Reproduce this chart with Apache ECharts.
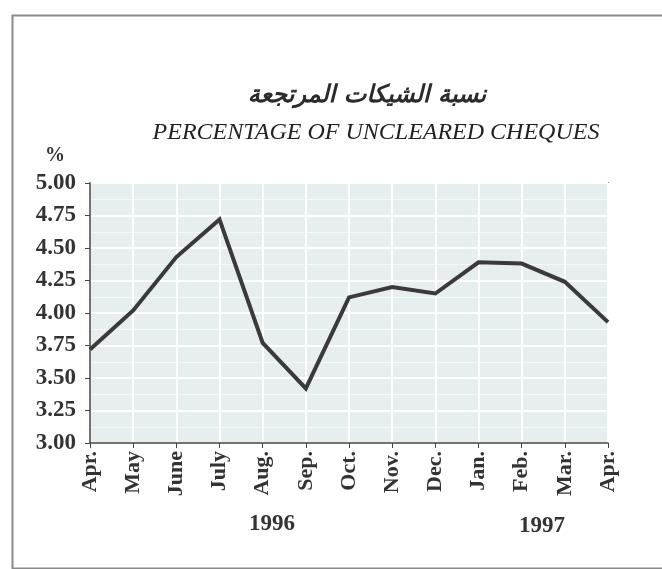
<!DOCTYPE html>
<html>
<head>
<meta charset="utf-8">
<script src="https://cdn.jsdelivr.net/npm/echarts@6/dist/echarts.min.js"></script>
<style>
  html, body { margin: 0; padding: 0; background: #fff; }
  #main { width: 662px; height: 569px; }
</style>
</head>
<body>
<div id="main"></div>
<script>
// months Apr 1996 .. Apr 1997
var months = ['Apr.', 'May', 'June', 'July', 'Aug.', 'Sep.', 'Oct.', 'Nov.', 'Dec.', 'Jan.', 'Feb.', 'Mar.', 'Apr.'];
var uncleared = [3.72, 4.02, 4.43, 4.72, 3.77, 3.42, 4.12, 4.20, 4.15, 4.39, 4.38, 4.24, 3.93];
var yTicks = [3.00, 3.25, 3.50, 3.75, 4.00, 4.25, 4.50, 4.75, 5.00];

var serif = '"Liberation Serif", "DejaVu Serif", serif';

function drawChart(){
    var myChart = echarts.init(document.getElementById('main'));

    var option = {
        backgroundColor: '#ffffff',
        animation: false,
        title: [
            {
                text: 'نسبة الشيكات المرتجعة',
                left: 362, top: 79, textAlign: 'center',
                textStyle: { fontFamily: '"DejaVu Sans", sans-serif', fontSize: 24, fontWeight: 'bold', fontStyle: 'italic', color: '#2b2b2b' }
            },
            {
                text: 'PERCENTAGE OF UNCLEARED CHEQUES',
                left: 371, top: 116, textAlign: 'center',
                textStyle: { fontFamily: serif, fontSize: 24, fontStyle: 'italic', fontWeight: 'normal', color: '#222' }
            }
        ],
        graphic: [
            {
                type: 'rect', left: 10, top: 13,
                shape: { width: 700, height: 553 },
                style: { fill: 'none', stroke: '#8a8a8a', lineWidth: 2 }
            },
            {
                type: 'text', left: 45, top: 146,
                style: { text: '%', font: 'bold 20px ' + serif, fill: '#333' }
            },
            {
                type: 'text', left: 249, top: 513,
                style: { text: '1996', font: 'bold 23px ' + serif, fill: '#333' }
            },
            {
                type: 'text', left: 519, top: 515,
                style: { text: '1997', font: 'bold 23px ' + serif, fill: '#333' }
            }
        ],
        grid: {
            left: 90, right: 54, top: 183, bottom: 126,
            show: true, backgroundColor: '#e6eef0', borderColor: '#555', borderWidth: 1.5
        },
        xAxis: {
            type: 'category',
            data: months,
            boundaryGap: false,
            axisLine: { lineStyle: { color: '#444', width: 1.5 } },
            axisTick: { show: true, length: 5, inside: false, lineStyle: { color: '#444' } },
            axisLabel: {
                rotate: 90, interval: 0, margin: 8,
                fontFamily: serif, fontSize: 22, fontWeight: 'bold', color: '#333'
            },
            splitLine: { show: true, lineStyle: { color: '#ffffff', width: 2 } }
        },
        yAxis: {
            type: 'value',
            min: yTicks[0], max: yTicks[yTicks.length - 1], interval: 0.25,
            axisLine: { show: true, lineStyle: { color: '#444', width: 1.5 } },
            axisTick: { show: true, length: 5, lineStyle: { color: '#444' } },
            axisLabel: {
                margin: 14,
                formatter: function(v){ return v.toFixed(2); },
                fontFamily: serif, fontSize: 23, fontWeight: 'bold', color: '#333'
            },
            splitLine: { show: true, lineStyle: { color: '#ffffff', width: 2 } },
            minorTick: { show: false, splitNumber: 2 },
            minorSplitLine: { show: true, lineStyle: { color: '#f4f8f9', width: 1 } }
        },
        series: [
            {
                type: 'line',
                data: uncleared,
                symbol: 'none',
                lineStyle: { color: '#3a3a3a', width: 4, join: 'miter' }
            }
        ]
    };

    myChart.setOption(option);
}

drawChart();
</script>
</body>
</html>
